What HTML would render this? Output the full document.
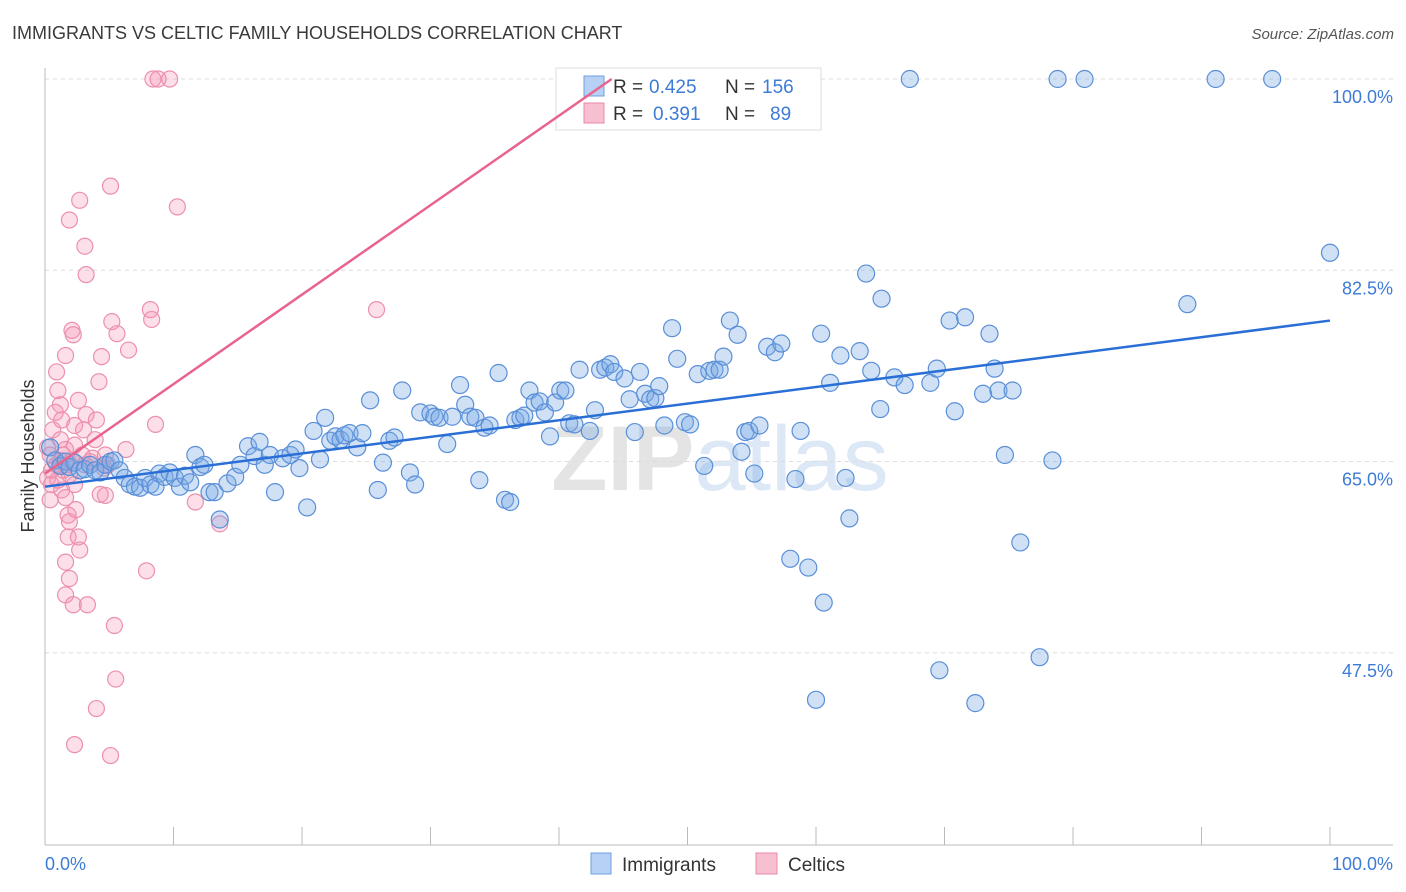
<!DOCTYPE html>
<html><head><meta charset="utf-8"><style>
body{margin:0;background:#fff;font-family:"Liberation Sans",sans-serif}
svg{display:block}
</style></head><body>
<svg id="chart" width="1406" height="892">
<text x="12" y="39" font-size="18" fill="#3a3a3a">IMMIGRANTS VS CELTIC FAMILY HOUSEHOLDS CORRELATION CHART</text>
<text x="1394" y="39" font-size="15" fill="#555" font-style="italic" text-anchor="end">Source: ZipAtlas.com</text>
<text x="0" y="0" font-size="18" fill="#333" text-anchor="middle" transform="translate(34,456) rotate(-90)">Family Households</text>
<text x="720" y="490" font-size="92" fill="#e4e4e4" text-anchor="middle" font-weight="bold">ZIP<tspan fill="#dce8f5" font-weight="normal">atlas</tspan></text>
<g id="grid"></g>
<g id="axes"></g>
<g>
<rect x="556" y="68" width="265" height="62" fill="#fff" stroke="#ddd"/>
<rect x="584" y="76" width="20" height="20" fill="#b6d1f3" stroke="#6f9fe0"/>
<text x="613" y="93" font-size="19" fill="#333">R = <tspan fill="#3d7bd6" x="649">0.425</tspan><tspan x="725">N = </tspan><tspan fill="#3d7bd6" x="762">156</tspan></text>
<rect x="584" y="103" width="20" height="20" fill="#f7c0d0" stroke="#e88aa8"/>
<text x="613" y="120" font-size="19" fill="#333">R = <tspan fill="#3d7bd6" x="653">0.391</tspan><tspan x="725">N = </tspan><tspan fill="#3d7bd6" x="770">89</tspan></text>
</g>
<g id="pinkpts"></g>
<g id="bluepts"></g>
<g id="lines"></g>
<g>
<rect x="591" y="853" width="20" height="21" fill="#b6d1f3" stroke="#6f9fe0"/>
<text x="622" y="871" font-size="19" fill="#333">Immigrants</text>
<rect x="756" y="853" width="21" height="21" fill="#f7c0d0" stroke="#e88aa8"/>
<text x="788" y="871" font-size="19" fill="#333">Celtics</text>
</g>
</svg>
<script>
const blueX=[0.4,0.8,1.2,1.6,1.9,2.3,2.7,3.1,3.5,3.9,4.3,4.7,5.1,5.4,5.8,6.2,6.6,7.0,7.4,7.8,8.2,8.6,8.9,9.3,9.7,10.1,10.5,10.9,11.3,11.7,12.1,12.4,12.8,13.2,13.6,14.2,14.8,15.2,15.8,16.3,16.7,17.1,17.5,17.9,18.5,19.1,19.5,19.8,20.4,20.9,21.4,21.8,22.2,22.6,23.0,23.3,23.7,24.3,24.7,25.3,25.9,26.3,26.8,27.2,27.8,28.4,28.8,29.2,30.0,30.3,30.7,31.3,31.7,32.3,32.7,33.1,33.5,33.8,34.2,34.6,35.3,35.8,36.2,36.6,37.0,37.3,37.7,38.1,38.5,38.9,39.3,39.7,40.1,40.5,40.8,41.2,41.6,42.4,42.8,43.2,43.6,44.0,44.3,45.1,45.5,45.9,46.3,46.7,47.1,47.5,47.8,48.2,48.8,49.2,49.8,50.2,50.8,51.3,51.7,52.1,52.5,52.8,53.3,53.9,54.2,54.5,54.8,55.2,55.6,56.2,56.8,57.3,58.0,58.4,58.8,59.4,60.0,60.4,60.6,61.1,61.9,62.3,62.6,63.4,63.9,64.3,65.0,65.1,66.1,66.9,67.3,68.9,69.4,69.6,70.4,70.8,71.6,72.4,73.0,73.5,73.9,74.2,74.7,75.3,75.9,77.4,78.4,78.8,80.9,88.9,91.1,95.5,100];
const blueY=[66.3,65.1,64.6,65.0,64.5,64.9,64.2,64.3,64.7,64.2,64.0,64.7,65.0,65.1,64.2,63.5,62.9,62.7,62.6,63.5,62.9,62.7,63.9,63.6,64.0,63.5,62.7,63.7,63.1,65.6,64.5,64.7,62.2,62.2,59.7,63.0,63.6,64.7,66.4,65.5,66.8,64.7,65.6,62.2,65.3,65.6,66.1,64.4,60.8,67.8,65.2,69.0,66.9,67.3,67.0,67.4,67.6,66.3,67.6,70.6,62.4,64.9,66.9,67.2,71.5,64.0,62.9,69.5,69.4,69.1,69.0,66.6,69.1,72.0,70.2,69.1,69.0,63.3,68.1,68.3,73.1,61.5,61.3,68.8,69.0,69.2,71.5,70.4,70.5,69.5,67.3,70.4,71.5,71.5,68.5,68.4,73.4,67.8,69.7,73.4,73.6,73.9,73.2,72.6,70.7,67.7,73.2,71.2,70.7,70.8,71.9,68.3,77.2,74.4,68.6,68.4,73.0,64.6,73.3,73.4,73.4,74.6,77.9,76.6,65.9,67.7,67.8,63.9,68.3,75.5,75.0,75.8,56.1,63.4,67.8,55.3,43.2,76.7,52.1,72.2,74.7,63.5,59.8,75.1,82.2,73.3,69.8,79.9,72.7,72.0,100,72.2,73.5,45.9,77.9,69.6,78.2,42.9,71.2,76.7,73.5,71.5,65.6,71.5,57.6,47.1,65.1,100,100,79.4,100,100,84.1];
const pinkX=[0.2,0.4,0.5,0.2,0.5,0.4,0.8,0.6,1.0,0.9,1.2,1.3,1.2,1.4,1.6,1.3,1.6,1.8,1.9,1.8,1.6,1.9,1.6,2.2,2.3,2.1,2.3,2.4,2.6,2.7,2.9,3.0,3.2,2.1,2.2,1.6,2.3,2.6,1.9,2.7,3.1,3.2,3.3,3.7,3.9,4.0,4.2,4.4,4.7,4.7,4.9,5.1,5.2,5.4,5.5,4.0,2.3,5.1,5.6,6.5,6.3,7.9,8.2,8.3,8.6,8.4,8.8,9.7,10.3,11.7,13.6,25.8,1.2,1.6,1.9,3.1,3.5,0.9,1.0,1.4,4.6,4.3];
const pinkY=[66.3,65.6,64.2,63.5,62.9,61.5,69.5,67.9,71.5,73.2,70.2,68.8,67.0,65.6,64.7,62.4,61.7,60.1,59.5,58.1,55.8,54.3,52.8,51.9,62.9,65.1,66.5,60.6,58.1,56.9,65.6,67.9,69.3,77.0,76.6,74.7,68.3,70.6,87.1,88.9,84.7,82.1,51.9,65.3,67.0,68.8,72.3,74.6,65.6,61.9,64.7,90.2,77.8,50.0,45.1,42.4,39.1,38.1,76.7,75.2,66.1,55.0,78.9,78.0,68.4,100,100,100,88.3,61.3,59.3,78.9,65.1,66.1,63.8,64.7,65.0,64.7,63.3,64.2,64.4,62.0];
const yTicks=[100,82.5,65,47.5];
const yTickLabels=["100.0%","82.5%","65.0%","47.5%"];
const xTicks=[0,10,20,30,40,50,60,70,80,90,100];
const blueLine=[[0,62.7],[100,77.9]];
const pinkLine=[[0,63.9],[44.1,100]];

const NS="http://www.w3.org/2000/svg";
function xs(v){return 45+v*12.85;}
function ys(v){return 79+(100-v)*10.93;}
function mk(tag,attrs,parent){const e=document.createElementNS(NS,tag);for(const k in attrs)e.setAttribute(k,attrs[k]);parent.appendChild(e);return e;}
const grid=document.getElementById('grid'),axes=document.getElementById('axes');
yTicks.forEach((t,i)=>{
  const l=mk('line',{x1:45,x2:1393,y1:ys(t),y2:ys(t),stroke:'#dcdcdc','stroke-dasharray':'4,4'},grid);
  
  
  const tx=mk('text',{x:1393,y:ys(t)+24,'font-size':18,fill:'#3d7bd6','text-anchor':'end'},grid);
  tx.textContent=yTickLabels[i];
  
  
});
const ya=mk('line',{x1:45,x2:45,y1:68,y2:845,stroke:'#bbb'},axes);


const xa=mk('line',{x1:45,x2:1393,y1:845,y2:845,stroke:'#bbb'},axes);


xTicks.forEach(t=>{
  const l=mk('line',{x1:xs(t),x2:xs(t),y1:827,y2:845,stroke:'#bbb'},axes);
  
  
});
const x0=mk('text',{x:45,y:870,'font-size':18,fill:'#3d7bd6'},axes);x0.textContent='0.0%';


const x1=mk('text',{x:1393,y:870,'font-size':18,fill:'#3d7bd6','text-anchor':'end'},axes);x1.textContent='100.0%';


const pg=document.getElementById('pinkpts');
pinkX.forEach((x,i)=>{
  const c=mk('circle',{cx:xs(x),cy:ys(pinkY[i]),r:8,fill:'rgba(244,150,180,0.3)',stroke:'#ec90ad','stroke-width':1.2},pg);
  
  
});
const bg=document.getElementById('bluepts');
blueX.forEach((x,i)=>{
  const c=mk('circle',{cx:xs(x),cy:ys(blueY[i]),r:8.5,fill:'rgba(120,170,230,0.35)',stroke:'#5a8fd8','stroke-width':1.2},bg);
  
  
});
const lg=document.getElementById('lines');
const bl=mk('line',{x1:xs(blueLine[0][0]),y1:ys(blueLine[0][1]),x2:xs(blueLine[1][0]),y2:ys(blueLine[1][1]),stroke:'#2a6fd6','stroke-width':2.5},lg);


const pl=mk('line',{x1:xs(pinkLine[0][0]),y1:ys(pinkLine[0][1]),x2:xs(pinkLine[1][0]),y2:ys(pinkLine[1][1]),stroke:'#e8648e','stroke-width':2.5},lg);


</script>
</body></html>
